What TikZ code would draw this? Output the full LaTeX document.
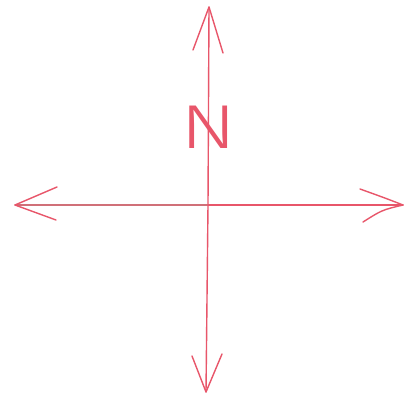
\documentclass[tikz,border=0pt]{standalone}
\usepackage{fontspec}
\newfontfamily\nfont{Fira Sans Light}
\definecolor{pen}{HTML}{E8566A}
\definecolor{penmuted}{HTML}{D07078}
\begin{document}
\begin{tikzpicture}[x=1pt,y=-1pt,
  pen/.style={draw=pen, line width=1.4pt, line cap=round, line join=round},
  penm/.style={draw=penmuted, line width=1.2pt, line cap=round}]
\fill[white] (0,0) rectangle (417,401);
\useasboundingbox (0,0) rectangle (417,401);
\coordinate (top) at (209,7);
\coordinate (bottom) at (206,392);
\coordinate (left) at (15,205);
\coordinate (right) at (403,205);
\coordinate (c) at (208,205);
% axes
\draw[pen] (top) -- (c) -- (bottom);
\draw[penm] (left) -- (c);
\draw[pen] (c) -- (right);
% arrow heads
\draw[pen] (193,50) -- (top) -- (223,53);
\draw[pen] (192,356) -- (bottom) -- (222,354);
\draw[pen] (57,187) -- (left) -- (56,220);
\draw[pen] (360,189) .. controls (385,198) .. (right) .. controls (382,210) .. (363,222);
% N
\node[text=pen, font=\nfont\fontsize{62}{62}\selectfont, inner sep=0pt, xscale=1.35] (n) at (208.5,127) {N};
\end{tikzpicture}
\end{document}
